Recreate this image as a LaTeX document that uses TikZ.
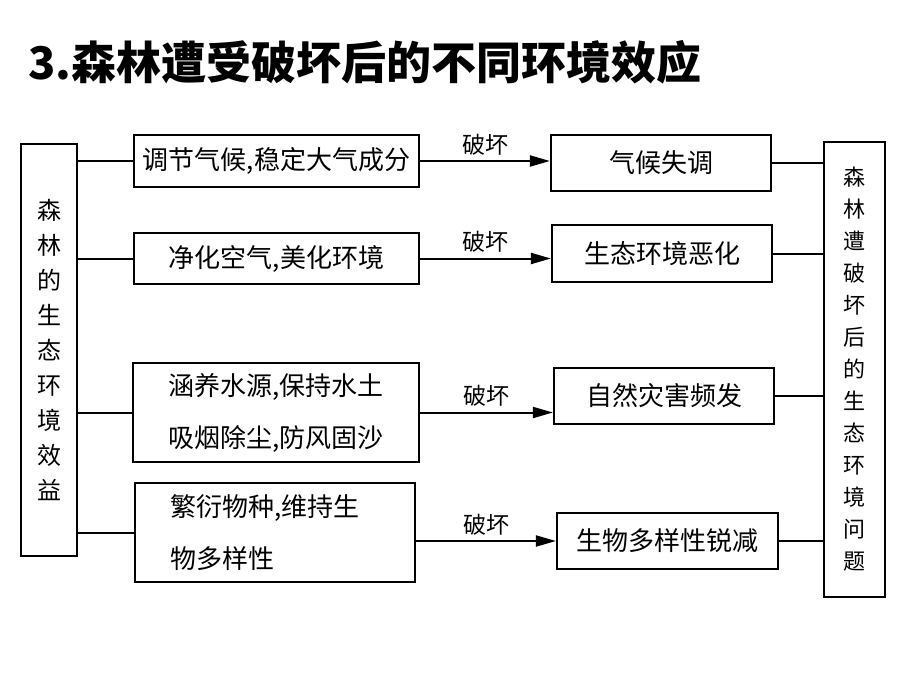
\documentclass[tikz,border=0pt]{standalone}
\usepackage{fontspec}
\setmainfont{Noto Sans CJK SC}
\usetikzlibrary{arrows.meta,positioning}

\begin{document}
\begin{tikzpicture}[x=1pt,y=-1pt,
		box/.style={draw, line width=2.2pt, inner sep=0pt, align=center, font=\fontsize{26}{52}\selectfont},
		tallbox/.style={draw, line width=2.2pt, inner sep=0pt, align=center},
		link/.style={line width=2pt},
		arr/.style={line width=2pt, -{Triangle[length=20pt,width=11pt]}},
		lbl/.style={font=\fontsize{23}{26}\selectfont, inner sep=5pt}]
	\useasboundingbox (0,0) rectangle (920,690);
	% Title
	\node[anchor=west, font=\fontsize{45}{50}\selectfont\bfseries] (title) at (25,62) {3.森林遭受破坏后的不同环境效应};
	% Side boxes
	\node[tallbox, minimum width=56pt, minimum height=412pt, font=\fontsize{24}{35}\selectfont] (benefit) at (49,350)
	{森\\林\\的\\生\\态\\环\\境\\效\\益};
	\node[tallbox, minimum width=61pt, minimum height=455pt, font=\fontsize{22}{32}\selectfont] (problem) at (854.5,369.5)
	{森\\林\\遭\\破\\坏\\后\\的\\生\\态\\环\\境\\问\\题};
	% Benefits
	\node[box, minimum width=285pt, minimum height=52pt] (b1) at (276.5,161) {调节气候,稳定大气成分};
	\node[box, minimum width=285pt, minimum height=51pt] (b2) at (276.5,258.5) {净化空气,美化环境};
	\node[box, minimum width=286pt, minimum height=99pt] (b3) at (276,412.5) {涵养水源,保持水土\\吸烟除尘,防风固沙};
	\node[box, minimum width=280pt, minimum height=99pt, text width=210pt, align=left] (b4) at (275,532.5) {繁衍物种,维持生\\物多样性};
	% Problems
	\node[box, minimum width=220pt, minimum height=56pt] (p1) at (661,163) {气候失调};
	\node[box, minimum width=220pt, minimum height=57pt] (p2) at (662,253.5) {生态环境恶化};
	\node[box, minimum width=220pt, minimum height=56pt] (p3) at (664,396) {自然灾害频发};
	\node[box, minimum width=221pt, minimum height=56pt] (p4) at (667.5,541) {生物多样性锐减};
	% Links
	\foreach \i in {1,...,4} {
		\draw[link] (benefit.east |- b\i.west) -- (b\i.west);
		\draw[link] (p\i.east) -- (p\i.east -| problem.west);
	}
	\foreach \i in {1,2,3} {
		\draw[arr] (b\i.east) -- (b\i.east -| p\i.west) node[lbl, midway, above] {破坏};
	}
	\draw[arr] (b4.east |- p4.west) -- (p4.west) node[lbl, midway, above] {破坏};
\end{tikzpicture}
\end{document}
